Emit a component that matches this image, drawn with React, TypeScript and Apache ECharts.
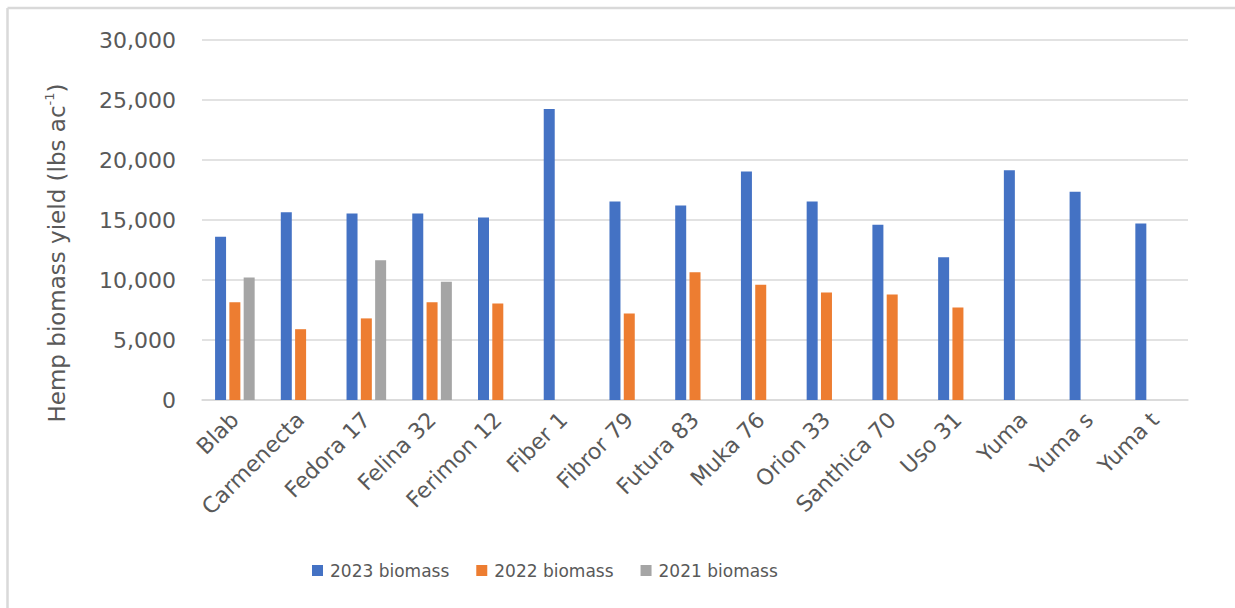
import React, { useEffect, useRef } from "react";
import * as echarts from "echarts";

const categories = [
  "Blab", "Carmenecta", "Fedora 17", "Felina 32", "Ferimon 12", "Fiber 1", "Fibror 79",
  "Futura 83", "Muka 76", "Orion 33", "Santhica 70", "Uso 31", "Yuma", "Yuma s", "Yuma t",
];
const biomass2023 = [13600, 15650, 15550, 15550, 15200, 24250, 16550, 16200, 19050, 16550, 14600, 11900, 19150, 17350, 14700];
const biomass2022 = [8150, 5900, 6800, 8150, 8050, null, 7200, 10650, 9600, 8950, 8800, 7700, null, null, null];
const biomass2021 = [10200, null, 11650, 9850, null, null, null, null, null, null, null, null, null, null, null];
const yTicks = { min: 0, max: 30000, interval: 5000 };
const seriesNames = ["2023 biomass", "2022 biomass", "2021 biomass"];
const colors = ["#4472C4", "#ED7D31", "#A5A5A5"];

const FONT = "DejaVu Sans";
const TEXT = "#595959";

export default function App() {
  const ref = useRef<HTMLDivElement>(null);
  useEffect(() => {
    if (!ref.current) return;
    const chart = echarts.init(ref.current, undefined, { renderer: "svg" });
    const data = [biomass2023, biomass2022, biomass2021];
    chart.setOption({
      animation: false,
      backgroundColor: "#ffffff",
      grid: { left: 202, right: 47, top: 40, bottom: 208, containLabel: false },
      legend: {
        left: 307,
        top: 557,
        icon: "rect",
        itemWidth: 11,
        itemHeight: 11,
        itemGap: 27,
        data: seriesNames,
        textStyle: { fontFamily: FONT, fontSize: 17, color: TEXT, padding: [0, 0, 0, 2] },
      },
      xAxis: {
        type: "category",
        data: categories,
        axisLine: { lineStyle: { color: "#d9d9d9", width: 1.5 } },
        axisTick: { show: false },
        axisLabel: {
          rotate: 45,
          margin: 16,
          interval: 0,
          fontFamily: FONT,
          fontSize: 22,
          color: TEXT,
        },
      },
      yAxis: {
        type: "value",
        min: yTicks.min,
        max: yTicks.max,
        interval: yTicks.interval,
        axisLine: { show: false },
        axisTick: { show: false },
        splitLine: { lineStyle: { color: "#d9d9d9", width: 1.5 } },
        axisLabel: {
          margin: 26,
          fontFamily: FONT,
          fontSize: 22,
          color: TEXT,
          formatter: (v: number) => v.toLocaleString("en-US"),
        },
      },
      series: seriesNames.map((name, i) => ({
        name,
        type: "bar",
        data: data[i],
        barWidth: 11,
        barGap: "30%",
        itemStyle: { color: colors[i] },
      })),
      graphic: [
        {
          type: "line",
          shape: { x1: 7.5, y1: 8, x2: 1240, y2: 8 },
          style: { stroke: "#d9d9d9", lineWidth: 2.5 },
        },
        {
          type: "line",
          shape: { x1: 7.5, y1: 8, x2: 7.5, y2: 610 },
          style: { stroke: "#d9d9d9", lineWidth: 2.5 },
        },
        {
          type: "text",
          x: 57,
          y: 253,
          rotation: Math.PI / 2,
          style: {
            text: "{a|Hemp biomass yield (lbs ac}{s|-1}{a|)}",
            align: "center",
            verticalAlign: "middle",
            rich: {
              a: { fontFamily: FONT, fontSize: 23, fill: TEXT, lineHeight: 28, verticalAlign: "middle" },
              s: { fontFamily: FONT, fontSize: 13, fill: TEXT, lineHeight: 28, verticalAlign: "top" },
            },
          },
        },
      ],
    });
    return () => chart.dispose();
  }, []);
  return (
    <div
      ref={ref}
      style={{ position: "fixed", left: 0, top: 0, width: 1235, height: 608, background: "#fff" }}
    />
  );
}
